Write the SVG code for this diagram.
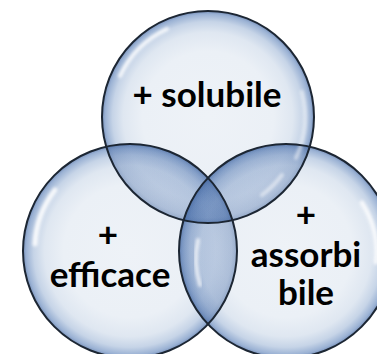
<svg xmlns="http://www.w3.org/2000/svg" width="377" height="354" viewBox="0 0 377 354">
  <style>
    .outline { fill: none; stroke: #1c2633; stroke-width: 2; }
    .label { font-family: Lato, "Open Sans", "Liberation Sans", sans-serif; font-weight: 700; font-size: 35px; fill: #000000; text-anchor: middle; }
    .hl { fill: none; stroke: #ffffff; stroke-linecap: round; filter: url(#blur); }
  </style>
  <defs>
    <radialGradient id="bub" cx="0.5" cy="0.5" r="0.5">
      <stop offset="0" stop-color="#eef2f7"/>
      <stop offset="0.62" stop-color="#ebf0f6"/>
      <stop offset="0.8" stop-color="#dfe7f1"/>
      <stop offset="0.9" stop-color="#c6d4e7"/>
      <stop offset="0.97" stop-color="#9bb2d4"/>
      <stop offset="1" stop-color="#7891bb"/>
    </radialGradient>
    <radialGradient id="ov" cx="0.5" cy="0.5" r="0.5">
      <stop offset="0" stop-color="#5f82b8" stop-opacity="0.17"/>
      <stop offset="0.8" stop-color="#5f82b8" stop-opacity="0.19"/>
      <stop offset="0.95" stop-color="#4f72aa" stop-opacity="0.28"/>
      <stop offset="1" stop-color="#3f629a" stop-opacity="0.4"/>
    </radialGradient>
    <clipPath id="cT"><circle cx="208" cy="117" r="106"/></clipPath>
    <clipPath id="cL"><circle cx="130" cy="251" r="107"/></clipPath>
    <clipPath id="cR"><circle cx="286" cy="251" r="107"/></clipPath>
    <filter id="blur" x="-50%" y="-50%" width="200%" height="200%"><feGaussianBlur stdDeviation="1.4"/></filter>
  </defs>

  <rect width="377" height="354" fill="#ffffff"/>

  <g id="bubbles">
    <circle cx="208" cy="117" r="106" fill="url(#bub)"/>
    <circle cx="130" cy="251" r="107" fill="url(#bub)"/>
    <circle cx="286" cy="251" r="107" fill="url(#bub)"/>
  </g>

  <g id="overlaps">
    <circle cx="130" cy="251" r="107" fill="url(#ov)" clip-path="url(#cT)"/>
    <circle cx="208" cy="117" r="106" fill="url(#ov)" clip-path="url(#cL)"/>
    <circle cx="286" cy="251" r="107" fill="url(#ov)" clip-path="url(#cT)"/>
    <circle cx="208" cy="117" r="106" fill="url(#ov)" clip-path="url(#cR)"/>
    <circle cx="286" cy="251" r="107" fill="url(#ov)" clip-path="url(#cL)"/>
    <circle cx="130" cy="251" r="107" fill="url(#ov)" clip-path="url(#cR)"/>
  </g>

  <g id="solubile">
    <path class="hl" d="M 120 76 A 97 97 0 0 1 167 29" stroke-width="4" opacity="0.85"/>
    <path class="hl" d="M 302 92 A 97 97 0 0 1 296 158" stroke-width="4" opacity="0.5"/>
    <path class="hl" d="M 282 175 A 95 95 0 0 1 262 195" stroke-width="4" opacity="0.5"/>
    <circle class="outline" cx="208" cy="117" r="106"/>
    <text class="label" x="207" y="107">+ solubile</text>
  </g>

  <g id="efficace">
    <path class="hl" d="M 35 244 A 96 96 0 0 1 55 190" stroke-width="5" opacity="0.85"/>
    <circle class="outline" cx="130" cy="251" r="107"/>
    <text class="label"><tspan x="108" y="247">+</tspan><tspan x="110" y="287">efficace</tspan></text>
  </g>

  <g id="assorbibile">
    <path class="hl" d="M 362 203 A 92 92 0 0 1 376 262" stroke-width="5" opacity="0.8"/>
    <path class="hl" d="M 198 240 A 90 90 0 0 0 200 285" stroke-width="4" opacity="0.7"/>
    <circle class="outline" cx="286" cy="251" r="107"/>
    <text class="label"><tspan x="306" y="227">+</tspan><tspan x="306" y="267">assorbi</tspan><tspan x="306" y="305">bile</tspan></text>
  </g>
</svg>
